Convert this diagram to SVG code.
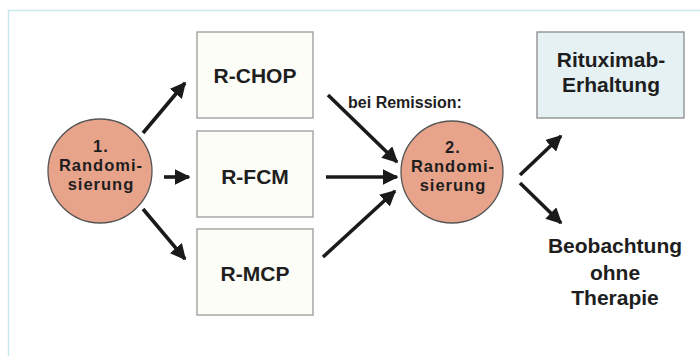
<svg xmlns="http://www.w3.org/2000/svg" width="700" height="356" viewBox="0 0 700 356">
<defs>
<style>
text{font-family:"Liberation Sans",Arial,sans-serif;font-weight:bold;fill:#1e1e1e;text-anchor:middle}
.box{fill:#fdfdf8;stroke:#9a9a9a;stroke-width:1.3}
.rbox{fill:#e6f1f3;stroke:#8a8a8a;stroke-width:1.3}
.circ{fill:#e8a38b;stroke:#555;stroke-width:1.3}
.arr{stroke:#1a1a1a;stroke-width:3.6;fill:none;marker-end:url(#ah)}
.bl{font-size:21px}
.cl{font-size:16.5px;letter-spacing:1px}
</style>
<marker id="ah" viewBox="0 0 10 10" refX="9" refY="5" markerWidth="4.4" markerHeight="4.4" orient="auto" markerUnits="strokeWidth">
<path d="M0,0 L10,5 L0,10 z" fill="#1a1a1a"/>
</marker>
</defs>
<rect width="700" height="356" fill="#fff"/>
<path d="M8.5,360 V10.5 H710" fill="none" stroke="#c9e7ef" stroke-width="1.5"/>
<g id="conn">
<line class="arr" x1="143" y1="133" x2="185" y2="83"/>
<line class="arr" x1="164" y1="177" x2="189" y2="177"/>
<line class="arr" x1="143" y1="209" x2="185" y2="259"/>
<line class="arr" x1="328" y1="95" x2="397" y2="162"/>
<line class="arr" x1="326" y1="177" x2="397" y2="177"/>
<line class="arr" x1="323" y1="257" x2="395" y2="191"/>
<line class="arr" x1="520" y1="175" x2="561" y2="136"/>
<line class="arr" x1="520" y1="183" x2="561" y2="223"/>
</g>
<g id="rand1">
<circle class="circ" cx="100" cy="171" r="52"/>
<text class="cl" x="101" y="152">1.</text>
<text class="cl" x="101" y="171">Randomi-</text>
<text class="cl" x="101" y="190">sierung</text>
</g>
<g id="rchop">
<rect class="box" x="197" y="32" width="116" height="86"/>
<text class="bl" x="255" y="83">R-CHOP</text>
</g>
<g id="rfcm">
<rect class="box" x="197" y="131" width="116" height="86"/>
<text class="bl" x="255" y="184">R-FCM</text>
</g>
<g id="rmcp">
<rect class="box" x="197" y="229" width="116" height="86"/>
<text class="bl" x="255" y="281">R-MCP</text>
</g>
<g id="remission">
<text x="405" y="108" style="font-size:16px">bei Remission:</text>
</g>
<g id="rand2">
<circle class="circ" cx="452" cy="172" r="51"/>
<text class="cl" x="453" y="153">2.</text>
<text class="cl" x="453" y="172">Randomi-</text>
<text class="cl" x="453" y="191">sierung</text>
</g>
<g id="ritux">
<rect class="rbox" x="537" y="32" width="147" height="86"/>
<text class="bl" x="611" y="67">Rituximab-</text>
<text class="bl" x="611" y="92">Erhaltung</text>
</g>
<g id="beob">
<text class="bl" x="615" y="253">Beobachtung</text>
<text class="bl" x="615" y="280">ohne</text>
<text class="bl" x="615" y="305">Therapie</text>
</g>
</svg>
